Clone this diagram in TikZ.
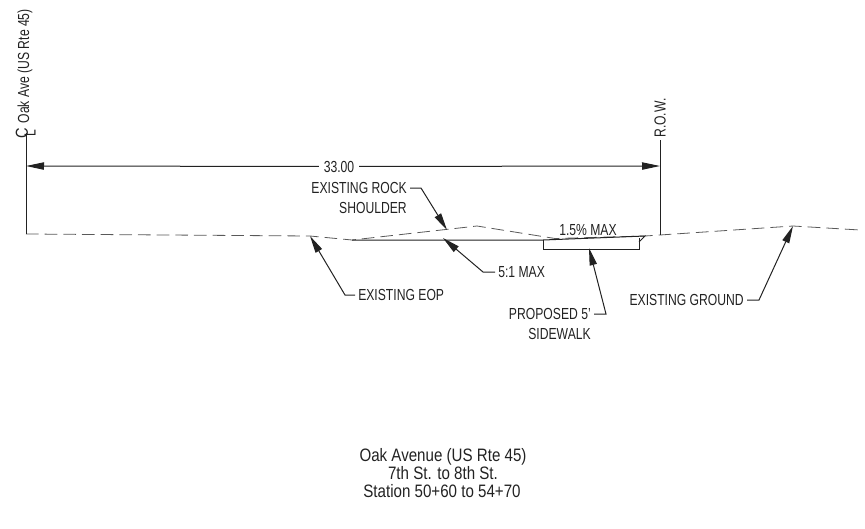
\documentclass[tikz,border=0pt]{standalone}
\usepackage{fontspec}
\setmainfont[FakeStretch=0.76]{Liberation Sans}
\newfontfamily\titlefont[FakeStretch=0.84]{Liberation Sans}
\usetikzlibrary{arrows.meta}

\definecolor{inkline}{HTML}{222222}
\tikzset{
  label text/.style={inner sep=0pt, text=inkline, font=\fontsize{12}{14}\selectfont},
  title text/.style={inner sep=0pt, text=inkline, font=\titlefont\fontsize{13.5}{16}\selectfont},
  ground/.style={draw=inkline!75, line width=0.6pt, dash pattern=on 9.5pt off 4.5pt},
  solid line/.style={draw=inkline, line width=0.75pt},
  leader/.style={draw=inkline, line width=0.75pt, -{Stealth[inset=0pt,length=13pt,width=5.5pt]}},
  dim line/.style={draw=inkline, line width=0.75pt, -{Stealth[inset=0pt,length=13.5pt,width=5.5pt]}}
}

\begin{document}
\begin{tikzpicture}[x=0.75pt,y=-0.75pt]
  \useasboundingbox (0,0) rectangle (865,529);

  % ground profile points
  \coordinate (CLbase) at (26,234);
  \coordinate (EOP) at (310,236);
  \coordinate (toe) at (352,240);
  \coordinate (crown) at (477,226);
  \coordinate (walkL) at (543,240);
  \coordinate (lip) at (645,236);
  \coordinate (ROWbase) at (660,235);
  \coordinate (hill) at (793,226);
  \coordinate (groundR) at (860,230);

  % existing ground
  \draw[ground] (CLbase) -- (EOP) -- (toe) -- (crown) -- (555,238.5) -- (lip) -- (ROWbase) -- (hill) -- (groundR);

  % slope and sidewalk
  \draw[solid line] (toe) -- (walkL) -- (lip) -- (639,242);
  \draw[solid line] (walkL) -- (543,249) -- (639,249) -- (639,238);

  % centerline and right of way
  \coordinate (CLtop) at (26,133);
  \coordinate (ROWtop) at (660,140);
  \draw[solid line] (CLtop) -- (CLbase);
  \draw[solid line] (ROWtop) -- (ROWbase);
  \node[label text, rotate=90, font=\titlefont\fontsize{13}{15}\selectfont] (CLc) at (22,133.5) {C};
  \node[label text, rotate=90] (CLl) at (30,133.5) {L};
  \node[label text, rotate=90, anchor=west] (oak) at (25,123.5) {Oak Ave (US Rte 45)};
  \node[label text, rotate=90, anchor=west] (row) at (660,138) {R.O.W.};

  % dimension
  \coordinate (dimL) at (26,166);
  \coordinate (dimR) at (660,166);
  \node[label text, fill=white, inner xsep=3.5pt] (dim) at (339,166.5) {33.00};
  \draw[dim line] (dim) -- (dimL);
  \draw[dim line] (dim) -- (dimR);

  % labels
  \node[label text, anchor=east] (rock) at (407,188) {EXISTING ROCK};
  \node[label text, anchor=east] (shoulder) at (407,208) {SHOULDER};
  \node[label text, anchor=west] (slope) at (498,272) {5:1 MAX};
  \node[label text, anchor=west] (eop) at (358,295) {EXISTING EOP};
  \node[label text] (cross) at (588,230) {1.5\% MAX};
  \node[label text, anchor=east] (walk) at (591,314) {PROPOSED 5'};
  \node[label text, anchor=east] (sidewalk) at (591,334) {SIDEWALK};
  \node[label text, anchor=east] (exist) at (744,300) {EXISTING GROUND};

  % leaders
  \draw[leader] (rock.east) ++(3,0) -- (421,188) -- (447,230);
  \draw[leader] (slope.west) ++(-3,0) -- (483,272) -- (443,238);
  \draw[leader] (eop.west) ++(-3,0) -- (345,295) -- (EOP);
  \draw[leader] (walk.east) ++(3,0) -- (606,314) -- (589,248);
  \draw[leader] (exist.east) ++(3,0) -- (759,300) -- (hill);

  % title
  \node[title text] (title1) at (443,457) {Oak Avenue (US Rte 45)};
  \node[title text] (title2) at (443,473.5) {7th St. to 8th St.};
  \node[title text] (title3) at (442,491) {Station 50+60 to 54+70};
\end{tikzpicture}
\end{document}
